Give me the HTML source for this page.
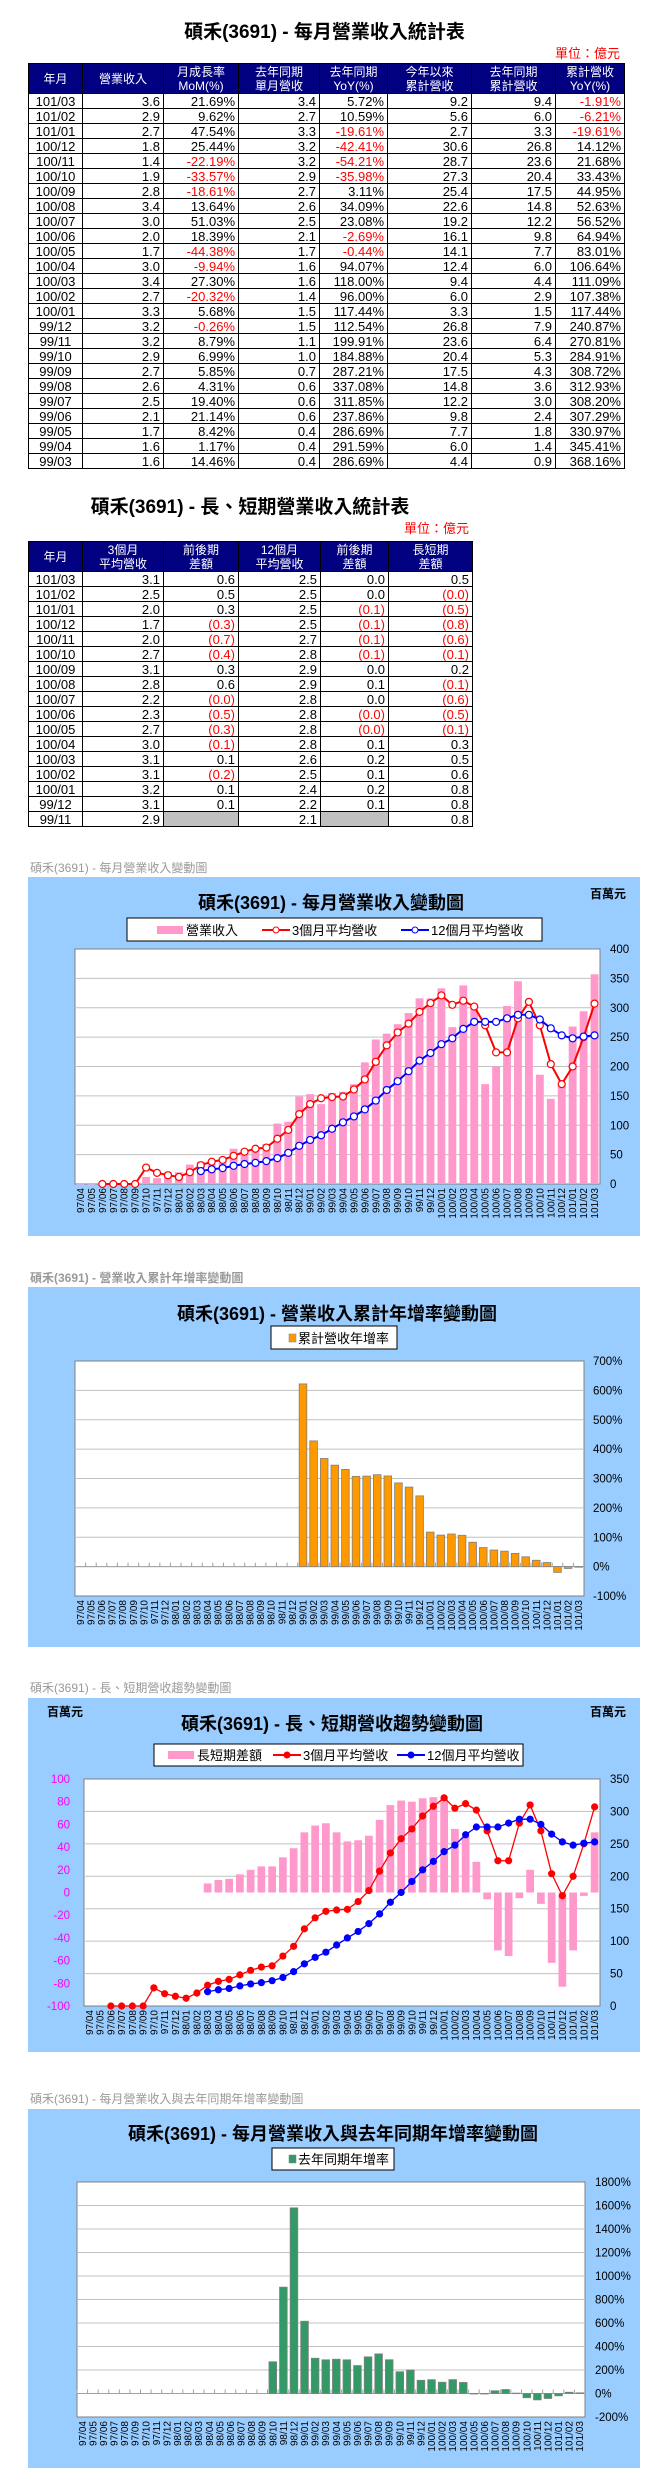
<!DOCTYPE html>
<html><head><meta charset="utf-8">
<style>
*{margin:0;padding:0;box-sizing:border-box}
body{width:669px;height:2491px;background:#fff;position:relative;overflow:hidden;font-family:"Liberation Sans","Noto Sans CJK TC",sans-serif;color:#000}
.ttl{position:absolute;left:0;width:669px;text-align:center;font-weight:bold;font-size:19px;line-height:24px}
.unit{position:absolute;color:#f00;font-size:13px;line-height:15px}
table{position:absolute;left:28px;border-collapse:collapse;table-layout:fixed;font-size:13px}
td,th{border:1px solid #000;height:15px;line-height:13px;padding:0 3px 0 0;text-align:right;white-space:nowrap;overflow:hidden}
th{background:#000080;color:#fff;font-weight:normal;text-align:center;font-size:12px;line-height:14px;height:30px;padding:0}
td:first-child{text-align:center;padding:0}
.r{color:#f00}
.g{background:#c0c0c0}
svg{position:absolute;left:0;top:0}
</style></head><body>
<div class="ttl" style="top:21px;left:-10px">碩禾(3691) - 每月營業收入統計表</div>
<div class="unit" style="top:46px;right:49px">單位：億元</div>
<table style="top:63px;width:596px">
<colgroup><col style="width:54px"><col style="width:81px"><col style="width:75px"><col style="width:81px"><col style="width:68px"><col style="width:84px"><col style="width:84px"><col style="width:69px"></colgroup>
<tr><th>年月</th><th>營業收入</th><th>月成長率<br>MoM(%)</th><th>去年同期<br>單月營收</th><th>去年同期<br>YoY(%)</th><th>今年以來<br>累計營收</th><th>去年同期<br>累計營收</th><th>累計營收<br>YoY(%)</th></tr>
<tr><td>101/03</td><td>3.6</td><td>21.69%</td><td>3.4</td><td>5.72%</td><td>9.2</td><td>9.4</td><td class="r">-1.91%</td></tr>
<tr><td>101/02</td><td>2.9</td><td>9.62%</td><td>2.7</td><td>10.59%</td><td>5.6</td><td>6.0</td><td class="r">-6.21%</td></tr>
<tr><td>101/01</td><td>2.7</td><td>47.54%</td><td>3.3</td><td class="r">-19.61%</td><td>2.7</td><td>3.3</td><td class="r">-19.61%</td></tr>
<tr><td>100/12</td><td>1.8</td><td>25.44%</td><td>3.2</td><td class="r">-42.41%</td><td>30.6</td><td>26.8</td><td>14.12%</td></tr>
<tr><td>100/11</td><td>1.4</td><td class="r">-22.19%</td><td>3.2</td><td class="r">-54.21%</td><td>28.7</td><td>23.6</td><td>21.68%</td></tr>
<tr><td>100/10</td><td>1.9</td><td class="r">-33.57%</td><td>2.9</td><td class="r">-35.98%</td><td>27.3</td><td>20.4</td><td>33.43%</td></tr>
<tr><td>100/09</td><td>2.8</td><td class="r">-18.61%</td><td>2.7</td><td>3.11%</td><td>25.4</td><td>17.5</td><td>44.95%</td></tr>
<tr><td>100/08</td><td>3.4</td><td>13.64%</td><td>2.6</td><td>34.09%</td><td>22.6</td><td>14.8</td><td>52.63%</td></tr>
<tr><td>100/07</td><td>3.0</td><td>51.03%</td><td>2.5</td><td>23.08%</td><td>19.2</td><td>12.2</td><td>56.52%</td></tr>
<tr><td>100/06</td><td>2.0</td><td>18.39%</td><td>2.1</td><td class="r">-2.69%</td><td>16.1</td><td>9.8</td><td>64.94%</td></tr>
<tr><td>100/05</td><td>1.7</td><td class="r">-44.38%</td><td>1.7</td><td class="r">-0.44%</td><td>14.1</td><td>7.7</td><td>83.01%</td></tr>
<tr><td>100/04</td><td>3.0</td><td class="r">-9.94%</td><td>1.6</td><td>94.07%</td><td>12.4</td><td>6.0</td><td>106.64%</td></tr>
<tr><td>100/03</td><td>3.4</td><td>27.30%</td><td>1.6</td><td>118.00%</td><td>9.4</td><td>4.4</td><td>111.09%</td></tr>
<tr><td>100/02</td><td>2.7</td><td class="r">-20.32%</td><td>1.4</td><td>96.00%</td><td>6.0</td><td>2.9</td><td>107.38%</td></tr>
<tr><td>100/01</td><td>3.3</td><td>5.68%</td><td>1.5</td><td>117.44%</td><td>3.3</td><td>1.5</td><td>117.44%</td></tr>
<tr><td>99/12</td><td>3.2</td><td class="r">-0.26%</td><td>1.5</td><td>112.54%</td><td>26.8</td><td>7.9</td><td>240.87%</td></tr>
<tr><td>99/11</td><td>3.2</td><td>8.79%</td><td>1.1</td><td>199.91%</td><td>23.6</td><td>6.4</td><td>270.81%</td></tr>
<tr><td>99/10</td><td>2.9</td><td>6.99%</td><td>1.0</td><td>184.88%</td><td>20.4</td><td>5.3</td><td>284.91%</td></tr>
<tr><td>99/09</td><td>2.7</td><td>5.85%</td><td>0.7</td><td>287.21%</td><td>17.5</td><td>4.3</td><td>308.72%</td></tr>
<tr><td>99/08</td><td>2.6</td><td>4.31%</td><td>0.6</td><td>337.08%</td><td>14.8</td><td>3.6</td><td>312.93%</td></tr>
<tr><td>99/07</td><td>2.5</td><td>19.40%</td><td>0.6</td><td>311.85%</td><td>12.2</td><td>3.0</td><td>308.20%</td></tr>
<tr><td>99/06</td><td>2.1</td><td>21.14%</td><td>0.6</td><td>237.86%</td><td>9.8</td><td>2.4</td><td>307.29%</td></tr>
<tr><td>99/05</td><td>1.7</td><td>8.42%</td><td>0.4</td><td>286.69%</td><td>7.7</td><td>1.8</td><td>330.97%</td></tr>
<tr><td>99/04</td><td>1.6</td><td>1.17%</td><td>0.4</td><td>291.59%</td><td>6.0</td><td>1.4</td><td>345.41%</td></tr>
<tr><td>99/03</td><td>1.6</td><td>14.46%</td><td>0.4</td><td>286.69%</td><td>4.4</td><td>0.9</td><td>368.16%</td></tr>
</table>

<div class="ttl" style="top:496px;left:28px;width:444px">碩禾(3691) - 長、短期營業收入統計表</div>
<div class="unit" style="top:521px;left:404px">單位：億元</div>
<table style="top:541px;width:444px">
<colgroup><col style="width:54px"><col style="width:81px"><col style="width:75px"><col style="width:82px"><col style="width:68px"><col style="width:84px"></colgroup>
<tr><th>年月</th><th>3個月<br>平均營收</th><th>前後期<br>差額</th><th>12個月<br>平均營收</th><th>前後期<br>差額</th><th>長短期<br>差額</th></tr>
<tr><td>101/03</td><td>3.1</td><td>0.6</td><td>2.5</td><td>0.0</td><td>0.5</td></tr>
<tr><td>101/02</td><td>2.5</td><td>0.5</td><td>2.5</td><td>0.0</td><td class="r">(0.0)</td></tr>
<tr><td>101/01</td><td>2.0</td><td>0.3</td><td>2.5</td><td class="r">(0.1)</td><td class="r">(0.5)</td></tr>
<tr><td>100/12</td><td>1.7</td><td class="r">(0.3)</td><td>2.5</td><td class="r">(0.1)</td><td class="r">(0.8)</td></tr>
<tr><td>100/11</td><td>2.0</td><td class="r">(0.7)</td><td>2.7</td><td class="r">(0.1)</td><td class="r">(0.6)</td></tr>
<tr><td>100/10</td><td>2.7</td><td class="r">(0.4)</td><td>2.8</td><td class="r">(0.1)</td><td class="r">(0.1)</td></tr>
<tr><td>100/09</td><td>3.1</td><td>0.3</td><td>2.9</td><td>0.0</td><td>0.2</td></tr>
<tr><td>100/08</td><td>2.8</td><td>0.6</td><td>2.9</td><td>0.1</td><td class="r">(0.1)</td></tr>
<tr><td>100/07</td><td>2.2</td><td class="r">(0.0)</td><td>2.8</td><td>0.0</td><td class="r">(0.6)</td></tr>
<tr><td>100/06</td><td>2.3</td><td class="r">(0.5)</td><td>2.8</td><td class="r">(0.0)</td><td class="r">(0.5)</td></tr>
<tr><td>100/05</td><td>2.7</td><td class="r">(0.3)</td><td>2.8</td><td class="r">(0.0)</td><td class="r">(0.1)</td></tr>
<tr><td>100/04</td><td>3.0</td><td class="r">(0.1)</td><td>2.8</td><td>0.1</td><td>0.3</td></tr>
<tr><td>100/03</td><td>3.1</td><td>0.1</td><td>2.6</td><td>0.2</td><td>0.5</td></tr>
<tr><td>100/02</td><td>3.1</td><td class="r">(0.2)</td><td>2.5</td><td>0.1</td><td>0.6</td></tr>
<tr><td>100/01</td><td>3.2</td><td>0.1</td><td>2.4</td><td>0.2</td><td>0.8</td></tr>
<tr><td>99/12</td><td>3.1</td><td>0.1</td><td>2.2</td><td>0.1</td><td>0.8</td></tr>
<tr><td>99/11</td><td>2.9</td><td class="g"></td><td>2.1</td><td class="g"></td><td>0.8</td></tr>
</table>

<svg id="charts" width="669" height="2491" viewBox="0 0 669 2491" font-family="Liberation Sans, Noto Sans CJK TC, sans-serif"></svg>

<script>
const cats=['97/04','97/05','97/06','97/07','97/08','97/09','97/10','97/11','97/12',
'98/01','98/02','98/03','98/04','98/05','98/06','98/07','98/08','98/09','98/10','98/11','98/12',
'99/01','99/02','99/03','99/04','99/05','99/06','99/07','99/08','99/09','99/10','99/11','99/12',
'100/01','100/02','100/03','100/04','100/05','100/06','100/07','100/08','100/09','100/10','100/11','100/12',
'101/01','101/02','101/03'];
const revenue=[0,0,0,0,0,0,12,10,20,
20,33,38,34,40,60,57,58,68,103,106,149,
153,136,155,157,170,207,246,256,272,291,316,316,
333,267,338,300,170,200,303,345,290,186,145,170,
268,294,357];
const ma3=[null,null,0,0,0,0,28,19,15,
12,20,32,38,41,48,55,60,62,77,92,119,
136,146,148,149,161,178,208,236,258,273,293,308,
321,305,312,302,270,224,224,282,310,270,204,170,
200,250,307];
const ma12=[null,null,null,null,null,null,null,null,null,
null,null,22,25,27,31,34,36,39,44,53,65,
75,83,94,105,115,127,142,160,175,192,210,223,
238,248,264,276,276,276,282,288,288,280,265,253,
248,251,253];
const diff=[null,null,null,null,null,null,null,null,null,
null,null,8,11,12,16,20,23,23,31,39,53,
59,61,53,45,46,50,64,77,81,80,83,84,
83,56,49,27,-6,-51,-56,-5,20,-10,-62,-83,
-51,-3,53];
const cumYoy=[null,null,null,null,null,null,null,null,null,
null,null,null,null,null,null,null,null,null,null,null,null,
622,428,368.16,345.41,330.97,307.29,308.2,312.93,308.72,284.91,270.81,240.87,
117.44,107.38,111.09,106.64,83.01,64.94,56.52,52.63,44.95,33.43,21.68,14.12,
-19.61,-6.21,-1.91];
const yoy=[null,null,null,null,null,null,null,null,null,
null,null,null,null,null,null,null,null,null,270,905,1580,
615,300,286.69,291.59,286.69,237.86,311.85,337.08,287.21,184.88,199.91,112.54,
117.44,96,118,94.07,-0.44,-2.69,23.08,34.09,3.11,-35.98,-54.21,-42.41,
-19.61,10.59,5.72];
const ticks1=[0,50,100,150,200,250,300,350,400];
const ticks2=[-100,0,100,200,300,400,500,600,700];
const ticks3L=[-100,-80,-60,-40,-20,0,20,40,60,80,100];
const ticks3R=[0,50,100,150,200,250,300,350];
const ticks4=[-200,0,200,400,600,800,1000,1200,1400,1600,1800];

const NS='http://www.w3.org/2000/svg';
const svg=document.getElementById('charts');
function mk(tag,attrs){const e=document.createElementNS(NS,tag);for(const k in attrs)e.setAttribute(k,attrs[k]);svg.appendChild(e);return e;}
function bandX(i,x0,x1){return x0+(i+0.5)*(x1-x0)/cats.length;}
function bandW(x0,x1){return (x1-x0)/cats.length;}
function linY(v,min,max,yb,yt){return yb-(v-min)/(max-min)*(yb-yt);}

function frame(p){
  let t=mk('text',{x:30,y:p.labelY,'font-size':12,fill:'#999','font-weight':p.labelBold?'bold':'normal'});
  t.textContent=p.label;
  
  
  let r=mk('rect',{x:28,y:p.top,width:612,height:p.h,fill:'#99ccff'});
  
  
  let tt=mk('text',{x:p.titleX,y:p.titleY,'font-size':18,'font-weight':'bold','text-anchor':'middle'});
  tt.textContent=p.title;
  
  
  let lg=mk('rect',{x:p.lg[0],y:p.lg[1],width:p.lg[2],height:p.lg[3],fill:'#fff',stroke:'#000','stroke-width':1});
  
  
  let pa=mk('rect',{x:p.px0,y:p.pyt,width:p.px1-p.px0,height:p.pyb-p.pyt,fill:'#fff',stroke:'#808080','stroke-width':1});
  
  
}
function grid(vals,min,max,p,labX,fmt,color,anchor,draw){
  vals.forEach(v=>{
    const y=linY(v,min,max,p.pyb,p.pyt);
    if(draw&&y>p.pyt+1&&y<p.pyb-1){
      const g=mk('line',{x1:p.px0,x2:p.px1,y1:y,y2:y,stroke:'#c0c0c0','stroke-width':1});
      
      
    }
    const t=mk('text',{x:labX,y:y+4,'font-size':11.5,fill:color,'text-anchor':anchor});
    t.textContent=fmt(v);
    
    
  });
}
function xLabels(p){
  cats.forEach((c,i)=>{
    const x=bandX(i,p.px0,p.px1)+3.5;
    const t=mk('text',{x:0,y:0,'font-size':10,transform:`translate(${x},${p.pyb+4}) rotate(-90)`,'text-anchor':'end'});
    t.textContent=c;
    
    
  });
}
function zeroAxis(p,y){
  const l=mk('line',{x1:p.px0,x2:p.px1,y1:y,y2:y,stroke:'#a0a0a0','stroke-width':1});
  
  
  cats.forEach((c,i)=>{
    const x=p.px0+i*bandW(p.px0,p.px1);
    const tk=mk('line',{x1:x,x2:x,y1:y-4,y2:y,stroke:'#a0a0a0','stroke-width':1});
    
    
  });
}
function bars(vals,min,max,p,fill,stroke,name){
  const w=bandW(p.px0,p.px1)*0.72;
  const y0=linY(0,min,max,p.pyb,p.pyt);
  vals.forEach((v,i)=>{
    if(v===null)return;
    const y=linY(v,min,max,p.pyb,p.pyt);
    const b=mk('rect',{x:bandX(i,p.px0,p.px1)-w/2,y:Math.min(y,y0),width:w,height:Math.max(Math.abs(y0-y),0.5),fill:fill,stroke:stroke||'none','stroke-width':stroke?0.8:0});
    
    
  });
}
function line(vals,min,max,p,color,hollow,name,r){
  let pts=[];
  vals.forEach((v,i)=>{if(v!==null)pts.push([bandX(i,p.px0,p.px1),linY(v,min,max,p.pyb,p.pyt)]);});
  const pl=mk('polyline',{points:pts.map(q=>q.join(',')).join(' '),fill:'none',stroke:color,'stroke-width':hollow?2:1.3});
  
  
  pts.forEach(q=>{
    const c=mk('circle',{cx:q[0],cy:q[1],r:r,fill:hollow?'#fff':color,stroke:color,'stroke-width':1.2});
    
    
  });
}
function legendItem(kind,x,y,color,label){
  if(kind==='bar'){
    const r=mk('rect',{x:x,y:y-4,width:26,height:8,fill:color});
    
    
  }else if(kind==='sq'){
    const r=mk('rect',{x:x,y:y-4,width:7,height:8,fill:color,stroke:'#808080','stroke-width':0.5});
    
    
  }else{
    const l=mk('line',{x1:x,x2:x+28,y1:y,y2:y,stroke:color,'stroke-width':2});
    
    
    const c=mk('circle',{cx:x+14,cy:y,r:3,fill:kind==='hollow'?'#fff':color,stroke:color});
    
    
  }
  const t=mk('text',{x:x+(kind==='bar'?29:kind==='sq'?9:30),y:y+5,'font-size':13});
  t.textContent=label;
  
  
}
function unitLabel(x,y){
  const t=mk('text',{x:x,y:y,'font-size':12,'font-weight':'bold','text-anchor':'middle'});
  t.textContent='百萬元';
  
  
}

/* Chart 1 */
const p1={label:'碩禾(3691) - 每月營業收入變動圖',labelY:872,top:877,h:359,title:'碩禾(3691) - 每月營業收入變動圖',titleX:331,titleY:909,lg:[127,918,415,23],px0:75,px1:600,pyt:949,pyb:1184};
frame(p1);
unitLabel(608,898);
grid(ticks1,0,400,p1,610,v=>v,'#000','start',true);
bars(revenue,0,400,p1,'#ff99cc',null,'revenue-bar');
line(ma3,0,400,p1,'#ff0000',true,'ma3',3.5);
line(ma12,0,400,p1,'#0000ff',true,'ma12',3.5);
xLabels(p1);
legendItem('bar',157,930,'#ff99cc','營業收入');
legendItem('hollow',262,930,'#ff0000','3個月平均營收');
legendItem('hollow',401,930,'#0000ff','12個月平均營收');

/* Chart 2 */
const p2={label:'碩禾(3691) -  營業收入累計年增率變動圖',labelBold:true,labelY:1282,top:1287,h:360,title:'碩禾(3691) -  營業收入累計年增率變動圖',titleX:337,titleY:1320,lg:[271,1326,126,23],px0:75,px1:584,pyt:1361,pyb:1596};
frame(p2);
grid(ticks2,-100,700,p2,593,v=>v+'%','#000','start',true);
zeroAxis(p2,linY(0,-100,700,p2.pyb,p2.pyt));
bars(cumYoy,-100,700,p2,'#ff9900','#808080','cum-yoy-bar');
xLabels(p2);
legendItem('sq',289,1338,'#ff9900','累計營收年增率');

/* Chart 3 */
const p3={label:'碩禾(3691) -  長、短期營收趨勢變動圖',labelY:1692,top:1698,h:354,title:'碩禾(3691) -  長、短期營收趨勢變動圖',titleX:332,titleY:1730,lg:[154,1744,369,22],px0:84,px1:600,pyt:1779,pyb:2006};
frame(p3);
unitLabel(65,1716);
unitLabel(608,1716);
grid(ticks3R,0,350,p3,610,v=>v,'#000','start',true);
grid(ticks3L,-100,100,p3,70,v=>v,'#ff00ff','end',false);
bars(diff,-100,100,p3,'#ff99cc',null,'diff-bar');
line(ma3,0,350,p3,'#ff0000',false,'ma3-trend',3);
line(ma12,0,350,p3,'#0000ff',false,'ma12-trend',3);
xLabels(p3);
legendItem('bar',168,1755,'#ff99cc','長短期差額');
legendItem('filled',273,1755,'#ff0000','3個月平均營收');
legendItem('filled',397,1755,'#0000ff','12個月平均營收');

/* Chart 4 */
const p4={label:'碩禾(3691) -  每月營業收入與去年同期年增率變動圖',labelY:2103,top:2109,h:359,title:'碩禾(3691) -  每月營業收入與去年同期年增率變動圖',titleX:333,titleY:2140,lg:[272,2148,122,22],px0:77,px1:585,pyt:2182,pyb:2417};
frame(p4);
grid(ticks4,-200,1800,p4,595,v=>v+'%','#000','start',true);
zeroAxis(p4,linY(0,-200,1800,p4.pyb,p4.pyt));
bars(yoy,-200,1800,p4,'#339966','#808080','yoy-bar');
xLabels(p4);
legendItem('sq',289,2159,'#339966','去年同期年增率');
</script>
</body></html>
